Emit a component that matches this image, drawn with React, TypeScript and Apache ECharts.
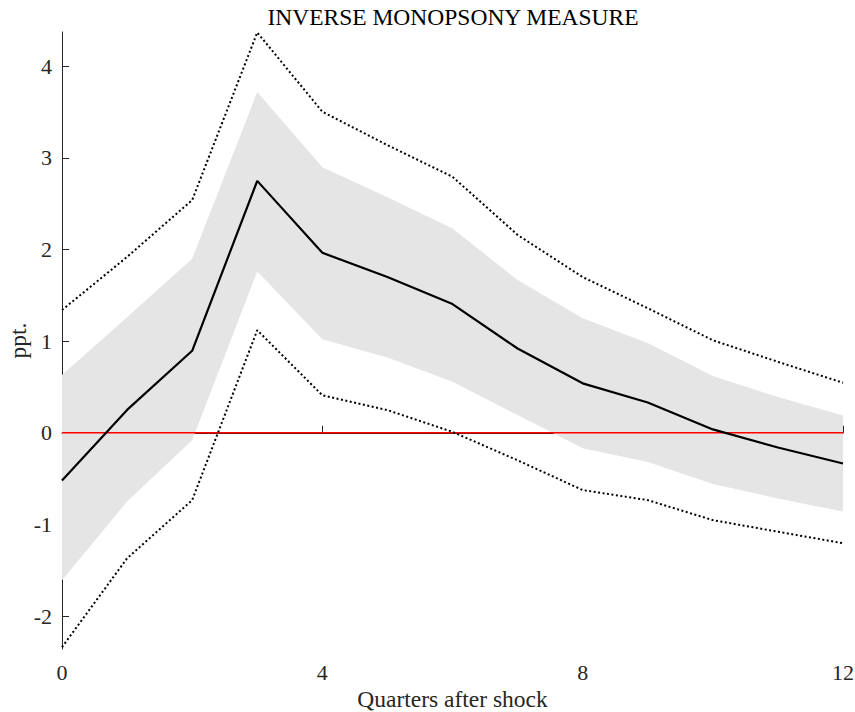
import React, { useEffect, useRef } from "react";
import * as echarts from "echarts";

const quarters = [0, 1, 2, 3, 4, 5, 6, 7, 8, 9, 10, 11, 12];
const median = [-0.52, 0.25, 0.895, 2.75, 1.965, 1.70, 1.405, 0.92, 0.54, 0.33, 0.037, -0.16, -0.335];
const bandUpper = [0.63, 1.26, 1.9, 3.72, 2.9, 2.57, 2.23, 1.667, 1.25, 0.98, 0.62, 0.39, 0.19];
const bandLower = [-1.61, -0.75, -0.08, 1.76, 1.02, 0.823, 0.557, 0.193, -0.17, -0.32, -0.56, -0.716, -0.86];
const outerUpper = [1.34, 1.92, 2.54, 4.37, 3.505, 3.14, 2.795, 2.16, 1.70, 1.36, 1.01, 0.775, 0.546];
const outerLower = [-2.34, -1.37, -0.735, 1.12, 0.41, 0.248, 0.01, -0.30, -0.625, -0.735, -0.953, -1.08, -1.205];
const zeroLine = [[0, 0], [12, 0]];
const yTicks = [-2, -1, 0, 1, 2, 3, 4];
const xTicks = [0, 4, 8, 12];

const FONT = "'Liberation Serif', 'Times New Roman', serif";
const AXIS_COLOR = "#262626";

export default function App() {
  const ref = useRef<HTMLDivElement>(null);
  useEffect(() => {
    if (!ref.current) return;
    const chart = echarts.init(ref.current, undefined, { renderer: "svg" });
    const pairs = (ys: number[]) => quarters.map((q, i) => [q, ys[i]]);
    const bandData = quarters.map((q, i) => [q, bandLower[i], bandUpper[i]]);
    chart.setOption({
      animation: false,
      backgroundColor: "#ffffff",
      textStyle: { fontFamily: FONT },
      title: {
        text: "INVERSE MONOPSONY MEASURE",
        left: 448,
        textAlign: "center",
        top: 0,
        textStyle: { fontFamily: FONT, fontSize: 23.5, fontWeight: "normal", color: "#000" },
      },
      grid: { left: 62, right: 12, top: 32, bottom: 63, containLabel: false, outerBoundsMode: "none" },
      xAxis: {
        type: "value",
        min: 0,
        max: 12,
        interval: 4,
        name: "Quarters after shock",
        nameLocation: "middle",
        nameGap: 38,
        nameMoveOverlap: false,
        nameTextStyle: { fontFamily: FONT, fontSize: 23.5, color: AXIS_COLOR },
        axisLine: { show: true, lineStyle: { color: AXIS_COLOR, width: 1 } },
        axisTick: { show: true, inside: true, length: 7, lineStyle: { color: AXIS_COLOR } },
        axisLabel: {
          fontFamily: FONT,
          fontSize: 22,
          color: AXIS_COLOR,
          margin: 12,
          customValues: xTicks,
        },
        splitLine: { show: false },
      },
      yAxis: {
        type: "value",
        min: -2.36,
        max: 4.375,
        name: "ppt.",
        nameLocation: "middle",
        nameGap: 32,
        nameMoveOverlap: false,
        nameRotate: 90,
        nameTextStyle: { fontFamily: FONT, fontSize: 23.5, color: AXIS_COLOR },
        axisLine: { show: true, lineStyle: { color: AXIS_COLOR, width: 1 } },
        axisTick: { show: true, inside: true, length: 7, lineStyle: { color: AXIS_COLOR }, customValues: yTicks },
        axisLabel: {
          fontFamily: FONT,
          fontSize: 22,
          color: AXIS_COLOR,
          margin: 10,
          customValues: yTicks,
        },
        splitLine: { show: false },
      },
      series: [
        {
          type: "custom",
          data: bandData,
          encode: { x: 0, y: [1, 2] },
          silent: true,
          z: 1,
          renderItem: (params: any, api: any) => {
            if (params.dataIndex !== 0) return null;
            const n = bandData.length;
            const top: number[][] = [];
            const bottom: number[][] = [];
            for (let j = 0; j < n; j++) {
              const x = api.value(0, j);
              top.push(api.coord([x, api.value(2, j)]));
              bottom.push(api.coord([x, api.value(1, j)]));
            }
            const points = top.concat(bottom.reverse());
            return {
              type: "polygon",
              shape: { points },
              style: { fill: "#e5e5e5", stroke: "none" },
            };
          },
        },
        {
          type: "line",
          data: zeroLine,
          symbol: "none",
          lineStyle: { color: "#ff0000", width: 1.6 },
          z: 2,
        },
        {
          type: "line",
          data: pairs(outerUpper),
          symbol: "none",
          lineStyle: { color: "#000", width: 2, type: [2, 2.5] },
          z: 3,
        },
        {
          type: "line",
          data: pairs(outerLower),
          symbol: "none",
          lineStyle: { color: "#000", width: 2, type: [2, 2.5] },
          z: 3,
        },
        {
          type: "line",
          data: pairs(median),
          symbol: "none",
          lineStyle: { color: "#000", width: 2.2 },
          z: 4,
        },
      ],
    });
    return () => chart.dispose();
  }, []);
  return <div ref={ref} style={{ width: 855, height: 712, position: "absolute", left: 0, top: 0 }} />;
}
